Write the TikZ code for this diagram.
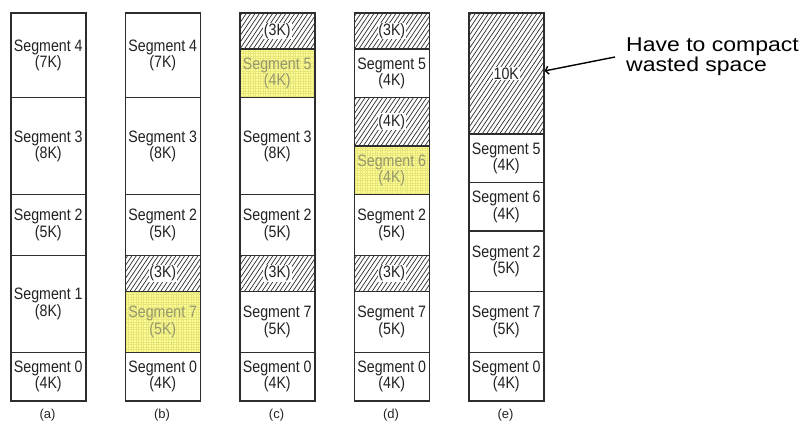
\documentclass[tikz,border=0pt]{standalone}
\usepackage{fontspec}
\setmainfont{Liberation Sans}
\newfontfamily\segfont[FakeStretch=0.86]{Liberation Sans}
\newfontfamily\notefont[FakeStretch=1.15]{Liberation Sans}
\usetikzlibrary{arrows.meta}

\definecolor{ink}{RGB}{34,34,34}
\definecolor{frame}{RGB}{45,45,45}
\definecolor{newfill}{RGB}{255,255,150}
\definecolor{newgrid}{RGB}{230,230,125}
\definecolor{newtext}{RGB}{150,150,110}

% white patch behind labels sitting on hatched holes
\newcommand\cutout[1]{{\setlength\fboxsep{0.8pt}\colorbox{white}{#1}}}

% one memory block: name, column, top (K), size (K), style, text
\newcommand\blk[6]{%
  \node[#5, minimum height={#4*12.125pt}] (#1) at ({10+114.5*#2},{12+12.125*#3}) {#6};}

\tikzset{
  block/.style={draw=frame, line width=1.6pt, minimum width=75pt, inner sep=0pt,
    anchor=north west, align=center, text=ink,
    font=\segfont\fontsize{16.5}{15.2}\selectfont},
  used/.style={block, fill=white},
  newseg/.style={block, fill=newfill, text=newtext,
    path picture={\draw[newgrid, line width=0.3pt, step=2.5pt]
      (path picture bounding box.south west) grid (path picture bounding box.north east);}},
  hole/.style={block,
    path picture={\foreach \k in {-30,...,20}
      \draw[frame, line width=0.7pt]
        ([xshift=\k*4.4pt]path picture bounding box.south west) -- ++(56:170pt);}},
  caption/.style={text=ink, font=\fontsize{13}{15}\selectfont},
  note/.style={anchor=north west, inner sep=0pt, align=left, text=black,
    font=\notefont\fontsize{20}{20}\selectfont},
  pointer/.style={draw=black, line width=1.4pt, -{Straight Barb[length=3pt,width=8pt]}}
}

\begin{document}
\begin{tikzpicture}[x=1pt,y=-1pt]
\useasboundingbox (0,0) rectangle (802,426);

% (a)
\blk{a4}{0}{0}{7}{used}{Segment 4\\(7K)}
\blk{a3}{0}{7}{8}{used}{Segment 3\\(8K)}
\blk{a2}{0}{15}{5}{used}{Segment 2\\(5K)}
\blk{a1}{0}{20}{8}{used}{Segment 1\\(8K)}
\blk{a0}{0}{28}{4}{used}{Segment 0\\(4K)}

% (b)
\blk{b4}{1}{0}{7}{used}{Segment 4\\(7K)}
\blk{b3}{1}{7}{8}{used}{Segment 3\\(8K)}
\blk{b2}{1}{15}{5}{used}{Segment 2\\(5K)}
\blk{bh}{1}{20}{3}{hole}{\cutout{(3K)}}
\blk{b7}{1}{23}{5}{newseg}{Segment 7\\(5K)}
\blk{b0}{1}{28}{4}{used}{Segment 0\\(4K)}

% (c)
\blk{ch1}{2}{0}{3}{hole}{\cutout{(3K)}}
\blk{c5}{2}{3}{4}{newseg}{Segment 5\\(4K)}
\blk{c3}{2}{7}{8}{used}{Segment 3\\(8K)}
\blk{c2}{2}{15}{5}{used}{Segment 2\\(5K)}
\blk{ch2}{2}{20}{3}{hole}{\cutout{(3K)}}
\blk{c7}{2}{23}{5}{used}{Segment 7\\(5K)}
\blk{c0}{2}{28}{4}{used}{Segment 0\\(4K)}

% (d)
\blk{dh1}{3}{0}{3}{hole}{\cutout{(3K)}}
\blk{d5}{3}{3}{4}{used}{Segment 5\\(4K)}
\blk{dh2}{3}{7}{4}{hole}{\cutout{(4K)}}
\blk{d6}{3}{11}{4}{newseg}{Segment 6\\(4K)}
\blk{d2}{3}{15}{5}{used}{Segment 2\\(5K)}
\blk{dh3}{3}{20}{3}{hole}{\cutout{(3K)}}
\blk{d7}{3}{23}{5}{used}{Segment 7\\(5K)}
\blk{d0}{3}{28}{4}{used}{Segment 0\\(4K)}

% (e)
\blk{eh}{4}{0}{10}{hole}{\cutout{10K}}
\blk{e5}{4}{10}{4}{used}{Segment 5\\(4K)}
\blk{e6}{4}{14}{4}{used}{Segment 6\\(4K)}
\blk{e2}{4}{18}{5}{used}{Segment 2\\(5K)}
\blk{e7}{4}{23}{5}{used}{Segment 7\\(5K)}
\blk{e0}{4}{28}{4}{used}{Segment 0\\(4K)}

% captions
\node[caption] (la) at (47.5,415) {(a)};
\node[caption] (lb) at (162,415) {(b)};
\node[caption] (lc) at (276.5,415) {(c)};
\node[caption] (ld) at (391,415) {(d)};
\node[caption] (le) at (505.5,415) {(e)};

% annotation
\node[note] (note) at (626,38) {Have to compact\\wasted space};
\coordinate (tail) at (615,57);
\draw[pointer] (tail) -- ([yshift=2.5pt]eh.east);
\end{tikzpicture}
\end{document}
